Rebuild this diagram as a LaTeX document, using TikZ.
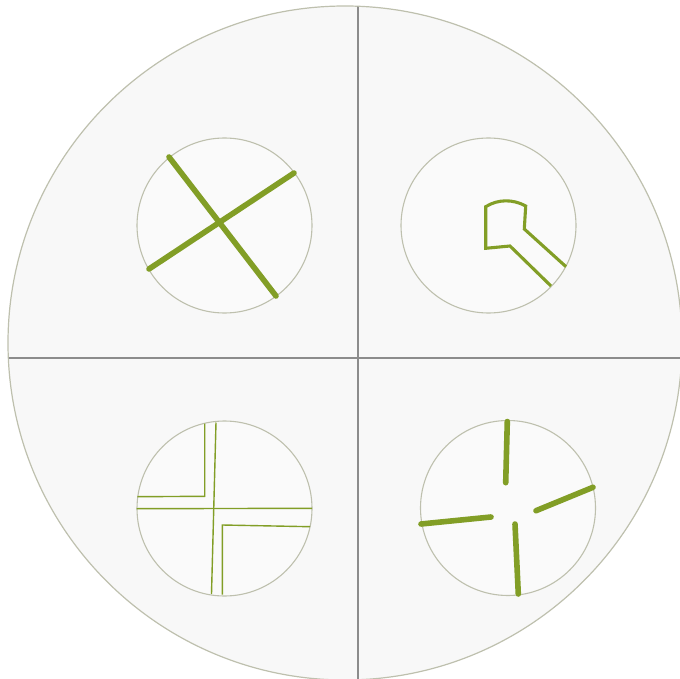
\documentclass[tikz,border=0pt]{standalone}
\definecolor{olive}{RGB}{130,158,38}
\definecolor{rimgray}{RGB}{190,192,174}
\definecolor{paper}{RGB}{248,248,248}
\definecolor{divider}{RGB}{140,140,140}
\tikzset{
  bigdisc/.style={circle, draw=rimgray, fill=paper, line width=1.2pt, minimum size=674pt, inner sep=0pt},
  smalldisc/.style={circle, draw=rimgray, fill=paper!70!white, line width=1.1pt, minimum size=175pt, inner sep=0pt},
  divline/.style={draw=divider, line width=1.1pt},
  thickbar/.style={draw=olive, line width=5.6pt, line cap=round},
  outlinebar/.style={draw=olive, line width=3.1pt, line join=miter},
  thinbar/.style={draw=olive, line width=1.4pt},
}
\begin{document}
\begin{tikzpicture}[x=1pt,y=-1pt]
\useasboundingbox (0,0) rectangle (680,679);
\clip (0,0) rectangle (680,679);
% big disc
\node[bigdisc] (big) at (345,343) {};
\coordinate (vt) at (358,4);
\coordinate (vb) at (358,682);
\coordinate (hl) at (5,358);
\coordinate (hr) at (684,358);
\begin{scope}
\clip (345,343) circle (336.5);
\draw[divline] (vt) -- (vb);
\draw[divline] (hl) -- (hr);
\end{scope}
% small discs
\node[smalldisc] (q1) at (224.5,225.5) {};
\node[smalldisc] (q2) at (488.5,225.5) {};
\node[smalldisc] (q3) at (224.5,508.5) {};
\node[smalldisc] (q4) at (508,508) {};
% Q1: cross
\coordinate (a1) at (169,157);
\coordinate (a2) at (276,296);
\coordinate (b1) at (149,269);
\coordinate (b2) at (294,173);
\draw[thickbar] (a1) -- (a2);
\draw[thickbar] (b1) -- (b2);
% Q2: outline
\coordinate (p1) at (485.7,206.7);
\coordinate (p2) at (525.7,206);
\coordinate (p3) at (524.3,229);
\coordinate (p4) at (566,266.7);
\coordinate (r1) at (485.7,248.3);
\coordinate (r2) at (510,246);
\coordinate (r3) at (551,286);
\draw[outlinebar] (p4) -- (p3) -- (p2) .. controls (513,199) and (498,199) .. (p1) -- (r1) -- (r2) -- (r3);
% Q3: thin lines
\coordinate (v1) at (216,422.5);
\coordinate (v2) at (211.5,594);
\coordinate (h1) at (136.7,508.7);
\coordinate (h2) at (312,508.3);
\coordinate (l1) at (204.7,423.5);
\coordinate (l2) at (204.7,496.3);
\coordinate (l3) at (137.3,496.7);
\coordinate (m1) at (222.3,594.5);
\coordinate (m2) at (222.3,525);
\coordinate (m3) at (310,526.7);
\draw[thinbar] (v1) -- (v2);
\draw[thinbar] (h1) -- (h2);
\draw[thinbar] (l1) -- (l2) -- (l3);
\draw[thinbar] (m1) -- (m2) -- (m3);
% Q4: four bars
\coordinate (t1) at (507.3,421.5);
\coordinate (t2) at (505.7,482.7);
\coordinate (s1) at (536,510.7);
\coordinate (s2) at (593,487.3);
\coordinate (w1) at (421,524);
\coordinate (w2) at (491,517);
\coordinate (d1) at (515,524);
\coordinate (d2) at (518.3,594);
\draw[thickbar] (t1) -- (t2);
\draw[thickbar] (s1) -- (s2);
\draw[thickbar] (w1) -- (w2);
\draw[thickbar] (d1) -- (d2);
\end{tikzpicture}
\end{document}
